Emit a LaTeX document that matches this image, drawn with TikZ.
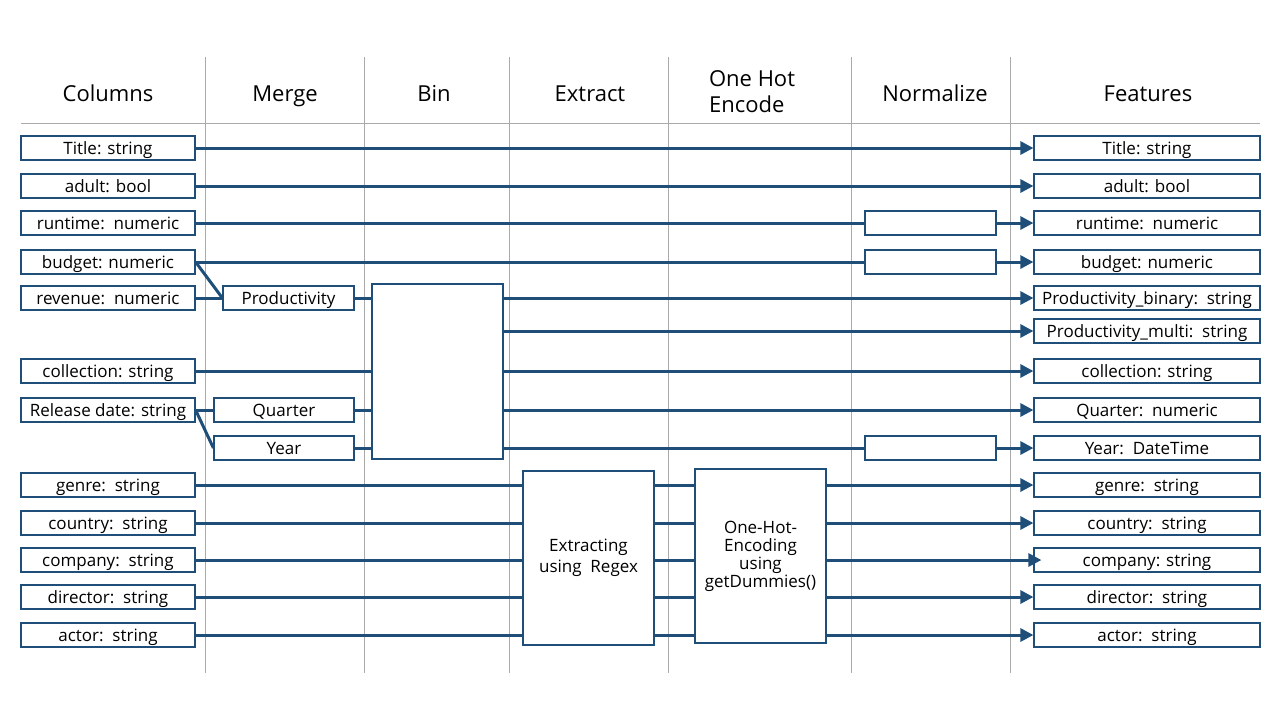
\documentclass[tikz,border=0pt]{standalone}
\usepackage{fontspec}
\setmainfont{Open Sans}
\usepackage{tikz}
\usetikzlibrary{arrows.meta}
\usepackage{color}
\definecolor{flowblue}{RGB}{31,78,121}
\definecolor{rulegray}{RGB}{170,170,170}

\begin{document}
\begin{tikzpicture}[x=0.5pt, y=-0.5pt,
    box/.style={draw=flowblue, line width=0.6pt, fill=white, inner sep=0pt,
      font=\fontsize{8.5}{9}\selectfont},
    colbox/.style={box, minimum width=87pt, minimum height=12pt,
      text height=6.1pt, text depth=0pt},
    featbox/.style={colbox, minimum width=113pt},
    stagebox/.style={colbox, minimum width=65.5pt},
    bigbox/.style={box, minimum width=65.5pt, minimum height=87pt, align=center},
    header/.style={font=\fontsize{11}{13}\selectfont, anchor=base},
    flow/.style={flowblue, line width=1.5pt},
    flowto/.style={flow, -{Triangle[length=6.5pt, width=6.5pt]}}]
  \useasboundingbox (0,0) rectangle (1280,720);

  % Grid of stages
  \draw[rulegray, line width=0.5pt] (21,123) -- (1260,123);
  \draw[rulegray, line width=0.5pt] (205,57) -- (205,673);
  \draw[rulegray, line width=0.5pt] (364,57) -- (364,673);
  \draw[rulegray, line width=0.5pt] (509,57) -- (509,673);
  \draw[rulegray, line width=0.5pt] (668,57) -- (668,673);
  \draw[rulegray, line width=0.5pt] (851,57) -- (851,673);
  \draw[rulegray, line width=0.5pt] (1010,57) -- (1010,673);

  % Headers
  \node[header] (hCols) at (108,101) {Columns};
  \node[header] (hMerge) at (285,101) {Merge};
  \node[header] (hBin) at (434,101) {Bin};
  \node[header] (hExtr) at (590,101) {Extract};
  \node[header, anchor=west, align=left] (hOhe) at (702,92) {One Hot\\Encode};
  \node[header] (hNorm) at (935,101) {Normalize};
  \node[header] (hFeat) at (1148,101) {Features};

  % Columns
  \node[colbox] (cTitle) at (108,148) {Title: string};
  \node[colbox] (cAdult) at (108,186) {adult: bool};
  \node[colbox] (cRuntime) at (108,223) {runtime:\ \ numeric};
  \node[colbox] (cBudget) at (108,262) {budget: numeric};
  \node[colbox] (cRevenue) at (108,298) {revenue:\ \ numeric};
  \node[colbox] (cColl) at (108,371) {collection: string};
  \node[colbox] (cRelease) at (108,410) {Release date: string};
  \node[colbox] (cGenre) at (108,485) {genre:\ \ string};
  \node[colbox] (cCountry) at (108,523) {country:\ \ string};
  \node[colbox] (cCompany) at (108,560) {company:\ \ string};
  \node[colbox] (cDirector) at (108,597) {director:\ \ string};
  \node[colbox] (cActor) at (108,635) {actor:\ \ string};

  % Stage boxes
  \node[stagebox] (prod) at (288.5,298) {Productivity};
  \node[stagebox, minimum width=70pt] (quarter) at (284,410) {Quarter};
  \node[stagebox, minimum width=70pt] (year) at (284,448) {Year};
  \node[bigbox, minimum height=87.5pt] (bin) at (437.5,371.5) {};
  \node[bigbox] (extr) at (588.5,558) {Extracting\\[1.5pt]using\ \ Regex};
  \node[bigbox] (ohe) at (760.5,556) {One-Hot-\\Encoding\\using\\getDummies()};
  \node[stagebox] (nRuntime) at (930.5,223) {};
  \node[stagebox] (nBudget) at (930.5,262) {};
  \node[stagebox] (nYear) at (930.5,448) {};

  % Features
  \node[featbox] (fTitle) at (1147,148) {Title: string};
  \node[featbox] (fAdult) at (1147,186) {adult: bool};
  \node[featbox] (fRuntime) at (1147,223) {runtime:\ \ numeric};
  \node[featbox] (fBudget) at (1147,262) {budget: numeric};
  \node[featbox] (fProdBin) at (1147,298) {Productivity\_binary:\ \ string};
  \node[featbox] (fProdMulti) at (1147,331) {Productivity\_multi:\ \ string};
  \node[featbox] (fColl) at (1147,371) {collection: string};
  \node[featbox] (fQuarter) at (1147,410) {Quarter:\ \ numeric};
  \node[featbox] (fYear) at (1147,448) {Year:\ \ DateTime};
  \node[featbox] (fGenre) at (1147,485) {genre:\ \ string};
  \node[featbox] (fCountry) at (1147,523) {country:\ \ string};
  \node[featbox] (fCompany) at (1147,560) {company: string};
  \node[featbox] (fDirector) at (1147,597) {director:\ \ string};
  \node[featbox] (fActor) at (1147,635) {actor:\ \ string};

  % Straight through
  \draw[flowto] (cTitle) -- (fTitle);
  \draw[flowto] (cAdult) -- (fAdult);

  % Normalize
  \draw[flow] (cRuntime) -- (nRuntime);
  \draw[flowto] (nRuntime) -- (fRuntime);
  \draw[flow] (cBudget) -- (nBudget);
  \draw[flowto] (nBudget) -- (fBudget);

  % Merge
  \draw[flow] (cBudget.east) -- (prod.west);
  \draw[flow] (cRevenue) -- (prod);
  \draw[flow] (cRelease.east) -- (quarter.west);
  \draw[flow] (cRelease.east) -- (year.west);

  % Bin
  \draw[flow] (prod) -- (prod -| bin.west);
  \draw[flow] (cColl) -- (cColl -| bin.west);
  \draw[flow] (quarter) -- (quarter -| bin.west);
  \draw[flow] (year) -- (year -| bin.west);
  \draw[flowto] (fProdBin -| bin.east) -- (fProdBin);
  \draw[flowto] (fProdMulti -| bin.east) -- (fProdMulti);
  \draw[flowto] (fColl -| bin.east) -- (fColl);
  \draw[flowto] (fQuarter -| bin.east) -- (fQuarter);
  \draw[flow] (nYear -| bin.east) -- (nYear);
  \draw[flowto] (nYear) -- (fYear);

  % Extract and One Hot Encode
  \draw[flow] (cGenre) -- (cGenre -| extr.west);
  \draw[flow] (cGenre -| extr.east) -- (cGenre -| ohe.west);
  \draw[flowto] (cGenre -| ohe.east) -- (fGenre);
  \draw[flow] (cCountry) -- (cCountry -| extr.west);
  \draw[flow] (cCountry -| extr.east) -- (cCountry -| ohe.west);
  \draw[flowto] (cCountry -| ohe.east) -- (fCountry);
  \draw[flow] (cCompany) -- (cCompany -| extr.west);
  \draw[flow] (cCompany -| extr.east) -- (cCompany -| ohe.west);
  \draw[flowto, shorten >=-4pt] (cCompany -| ohe.east) -- (fCompany);
  \draw[flow] (cDirector) -- (cDirector -| extr.west);
  \draw[flow] (cDirector -| extr.east) -- (cDirector -| ohe.west);
  \draw[flowto] (cDirector -| ohe.east) -- (fDirector);
  \draw[flow] (cActor) -- (cActor -| extr.west);
  \draw[flow] (cActor -| extr.east) -- (cActor -| ohe.west);
  \draw[flowto] (cActor -| ohe.east) -- (fActor);
\end{tikzpicture}
\end{document}
